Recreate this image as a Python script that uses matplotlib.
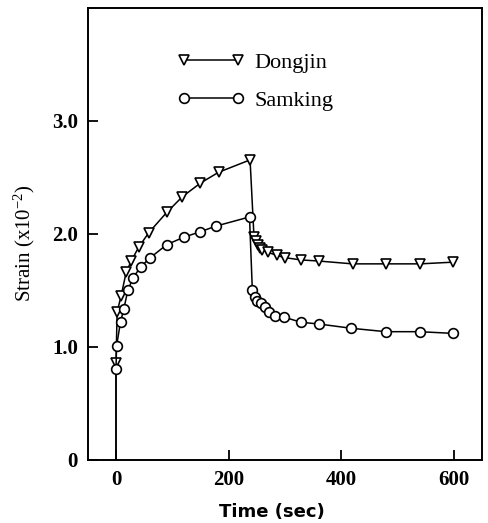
import matplotlib.pyplot as plt

# Data
t_dongjin = [0, 0, 2, 9, 18, 27, 40, 58, 90, 118, 150, 182, 238,
             245, 248, 252, 256, 260, 270, 285, 300, 328, 360, 420, 480, 540, 598]
s_dongjin = [0, 0.86, 1.31, 1.45, 1.66, 1.76, 1.88, 2.01, 2.19, 2.33, 2.45, 2.545, 2.655,
             1.97, 1.94, 1.905, 1.876, 1.86, 1.837, 1.81, 1.79, 1.77, 1.76, 1.735, 1.735, 1.735, 1.75]

t_samking = [0, 0, 1, 8, 14, 21, 30, 44, 61, 90, 120, 150, 178, 237,
             242, 246, 251, 257, 265, 271, 283, 299, 329, 360, 418, 479, 539, 598]
s_samking = [0, 0.805, 1.01, 1.22, 1.34, 1.50, 1.61, 1.71, 1.79, 1.905, 1.97, 2.02, 2.07, 2.15,
             1.507, 1.445, 1.41, 1.386, 1.35, 1.306, 1.277, 1.262, 1.218, 1.203, 1.165, 1.135, 1.135, 1.12]

x_ticks = [0, 200, 400, 600]
y_ticks = [0, 1.0, 2.0, 3.0]
y_tick_labels = ["0", "1.0", "2.0", "3.0"]

serif = "Liberation Serif"
plt.rcParams["mathtext.fontset"] = "custom"
plt.rcParams["mathtext.rm"] = serif
plt.rcParams["mathtext.it"] = serif + ":italic"

fig = plt.figure(figsize=(4.88, 5.23), dpi=100)
ax = fig.add_axes([0.180, 0.1205, 0.808, 0.8645])

ax.plot(t_dongjin, s_dongjin, color="black", lw=1.1, marker="v", ms=7,
        mfc="white", mec="black", mew=1.2, markevery=range(1, len(t_dongjin)),
        label="Dongjin")
ax.plot(t_samking, s_samking, color="black", lw=1.1, marker="o", ms=7,
        mfc="white", mec="black", mew=1.2, markevery=range(1, len(t_samking)),
        label="Samking")

ax.set_xlim(-50, 650)
ax.set_ylim(0, 4.0)
ax.set_xticks(x_ticks)
ax.set_yticks(y_ticks)
ax.set_yticklabels(y_tick_labels)

for sp in ax.spines.values():
    sp.set_linewidth(1.4)

ax.tick_params(direction="in", length=7, width=1.3, top=False, right=False, pad=7)
for lab in ax.get_xticklabels() + ax.get_yticklabels():
    lab.set_fontfamily(serif)
    lab.set_fontweight("bold")
    lab.set_fontsize(15)

ax.set_xlabel("Time (sec)", fontfamily="DejaVu Sans", fontweight="bold",
              fontsize=13, labelpad=12)
ax.xaxis.set_label_coords(0.467, -0.095)
ax.set_ylabel("Strain (x10$^{\\mathrm{-2}}$)", fontfamily=serif, fontsize=15, labelpad=10)
ax.yaxis.set_label_coords(-0.13, 0.48)

leg = ax.legend(loc="upper left", bbox_to_anchor=(0.228, 0.902), frameon=False,
                numpoints=2, handlelength=3.0, handletextpad=0.45,
                labelspacing=0.78, borderpad=0, borderaxespad=0,
                prop={"family": serif, "size": 16})

fig.savefig("out.png", dpi=100)
